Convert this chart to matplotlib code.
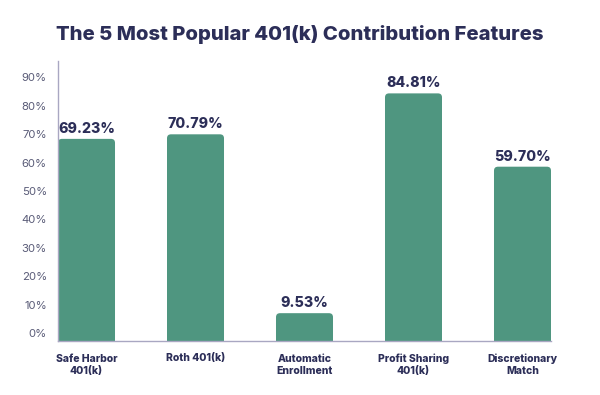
import matplotlib
matplotlib.use("Agg")
import matplotlib.pyplot as plt
from matplotlib.patches import FancyBboxPatch, Rectangle

categories = ["Safe Harbor\n401(k)", "Roth 401(k)", "Automatic\nEnrollment",
              "Profit Sharing\n401(k)", "Discretionary\nMatch"]
values = [69.23, 70.79, 9.53, 84.81, 59.70]
value_labels = ["69.23%", "70.79%", "9.53%", "84.81%", "59.70%"]
tick_labels = ["0%", "10%", "20%", "30%", "40%", "50%", "60%", "70%", "80%", "90%"]
title = "The 5 Most Popular 401(k) Contribution Features"

NAVY = "#2c2e58"
GREEN = "#4f9680"
AXIS = "#a9a7c2"
TICK = "#5a5c78"

plt.rcParams['font.family'] = ['Inter', 'DejaVu Sans']

fig = plt.figure(figsize=(6, 3.95), dpi=100)
ax = fig.add_axes([58/600, 1-341/395, 493/600, 280/395])

width = 0.523
x = list(range(len(values)))
ax.set_xlim(-width/2, len(values)-1+width/2)
ax.set_ylim(0, 95.9)

# rounded-top bars
px_x = 493 / (len(values)-1+width)
px_y = 280 / 95.9
r = 4.0 / px_x
aspect = px_x / px_y
for xi, v in zip(x, values):
    box = FancyBboxPatch((xi-width/2, 0), width, v,
                         boxstyle=f"round,pad=0,rounding_size={r}",
                         mutation_aspect=aspect, fc=GREEN, ec="none", zorder=2)
    ax.add_patch(box)
    ax.add_patch(Rectangle((xi-width/2, 0), width, v/2, fc=GREEN, ec="none", zorder=2))

for xi, v, lab in zip(x, values, value_labels):
    ax.annotate(lab, (xi, v), xytext=(0, 2.2), textcoords="offset points",
                ha="center", va="bottom", fontsize=10.2, fontweight="heavy", color=NAVY)

for s in ["top", "right"]:
    ax.spines[s].set_visible(False)
ax.spines["left"].set_color(AXIS)
ax.spines["bottom"].set_color(AXIS)
ax.spines["left"].set_linewidth(1)
ax.spines["bottom"].set_linewidth(1)

# tick labels are laid out slightly tighter than the bar scale in the reference
tick_pos = [2.74 + 9.73 * i for i in range(len(tick_labels))]
ax.set_yticks(tick_pos)
ax.set_yticklabels(tick_labels, fontsize=8.2, color=TICK)
ax.tick_params(axis="y", length=0, pad=8)
ax.set_xticks(x)
ax.set_xticklabels(categories, fontsize=7.5, fontweight="heavy", color=NAVY, linespacing=1.3)
ax.tick_params(axis="x", length=0, pad=9)

fig.text(0.5, 1-34/395, title, ha="center", va="center", fontsize=14.6,
         fontweight="heavy", color=NAVY)

fig.savefig("out.png", dpi=100, facecolor="white")
